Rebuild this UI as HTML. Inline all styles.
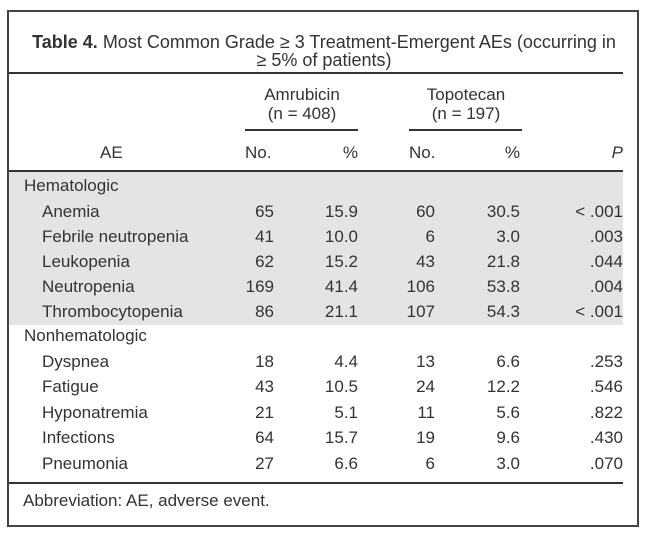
<!DOCTYPE html>
<html><head><meta charset="utf-8"><style>
body{margin:0;width:650px;height:533px;background:#fff;font-family:"Liberation Sans",sans-serif;color:#333;position:relative;overflow:hidden}
.box{position:absolute;left:7px;top:10px;width:628px;height:513px;border:2px solid #444;}
.t{position:absolute;white-space:nowrap;font-size:17px;line-height:20px}
.r{text-align:right}
.c{text-align:center}
.rule{position:absolute;height:2px;background:#333}
.gray{position:absolute;left:9px;top:172px;width:614px;height:153px;background:#e4e4e4}
</style></head><body>
<div class="box"></div>
<div class="gray"></div>
<div class="t c" style="left:0;width:648px;top:32px;font-size:18px"><b>Table 4.</b> Most Common Grade ≥ 3 Treatment-Emergent AEs (occurring in</div>
<div class="t c" style="left:0;width:648px;top:50px;font-size:18px">≥ 5% of patients)</div>
<div class="rule" style="left:9px;width:614px;top:72px"></div>
<div class="t c" style="left:240px;width:124px;top:85px">Amrubicin</div>
<div class="t c" style="left:240px;width:124px;top:104px">(n = 408)</div>
<div class="rule" style="left:245px;width:113px;top:129px"></div>
<div class="t c" style="left:404px;width:124px;top:85px">Topotecan</div>
<div class="t c" style="left:404px;width:124px;top:104px">(n = 197)</div>
<div class="rule" style="left:409px;width:113px;top:129px"></div>
<div class="t" style="left:100px;top:143px">AE</div>
<div class="t" style="left:245px;top:143px">No.</div>
<div class="t r" style="left:300px;width:58px;top:143px">%</div>
<div class="t" style="left:409px;top:143px">No.</div>
<div class="t r" style="left:460px;width:60px;top:143px">%</div>
<div class="t r" style="left:560px;width:63px;top:143px"><i>P</i></div>
<div class="rule" style="left:9px;width:614px;top:170px"></div>
<div class="t" style="left:24px;top:176px">Hematologic</div>
<div class="t" style="left:24px;top:326px">Nonhematologic</div>
<div id="rows"></div>
<div class="rule" style="left:9px;width:614px;top:482px"></div>
<div class="t" style="left:23px;top:491px">Abbreviation: AE, adverse event.</div>
<script>
var d=[["Anemia","65","15.9","60","30.5","&lt; .001",202],["Febrile neutropenia","41","10.0","6","3.0",".003",227],["Leukopenia","62","15.2","43","21.8",".044",252],["Neutropenia","169","41.4","106","53.8",".004",277],["Thrombocytopenia","86","21.1","107","54.3","&lt; .001",302],
["Dyspnea","18","4.4","13","6.6",".253",352],["Fatigue","43","10.5","24","12.2",".546",377],["Hyponatremia","21","5.1","11","5.6",".822",403],["Infections","64","15.7","19","9.6",".430",428],["Pneumonia","27","6.6","6","3.0",".070",454]];
var h="";d.forEach(function(r){var y=r[6];
h+='<div class="t" style="left:42px;top:'+y+'px">'+r[0]+'</div>';
h+='<div class="t r" style="left:200px;width:74px;top:'+y+'px">'+r[1]+'</div>';
h+='<div class="t r" style="left:290px;width:68px;top:'+y+'px">'+r[2]+'</div>';
h+='<div class="t r" style="left:370px;width:65px;top:'+y+'px">'+r[3]+'</div>';
h+='<div class="t r" style="left:450px;width:70px;top:'+y+'px">'+r[4]+'</div>';
h+='<div class="t r" style="left:540px;width:83px;top:'+y+'px">'+r[5]+'</div>';});
document.getElementById("rows").innerHTML=h;
</script>
</body></html>
